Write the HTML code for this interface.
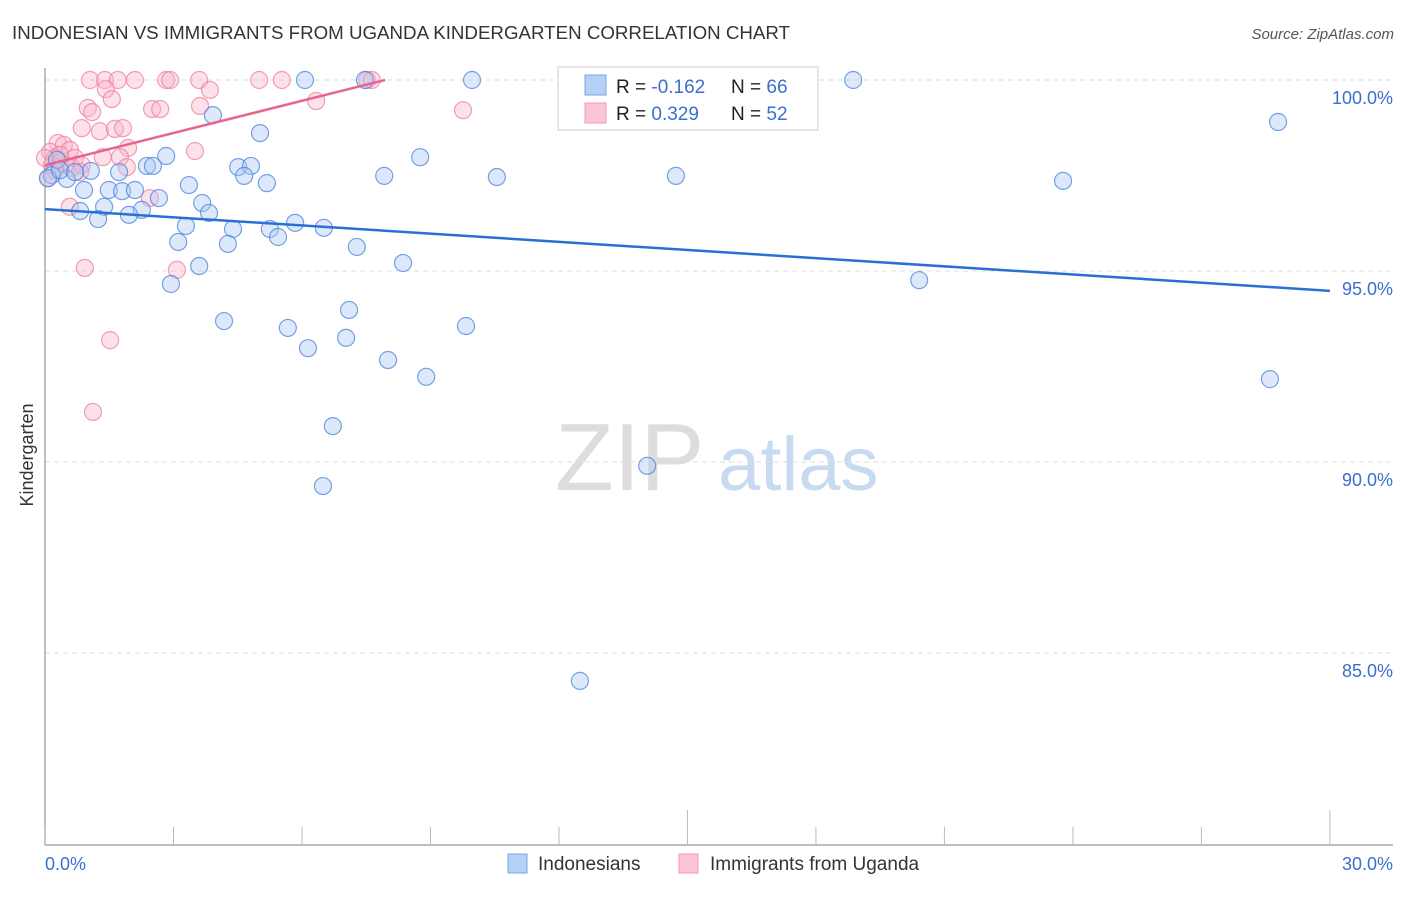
<!DOCTYPE html>
<html><head><meta charset="utf-8"><style>
body{margin:0;background:#fff;font-family:"Liberation Sans",sans-serif;}
svg text{font-family:"Liberation Sans",sans-serif;}
</style></head><body>
<svg id="chart" width="1406" height="892">
<text x="12" y="39" font-size="18" fill="#333" textLength="778" lengthAdjust="spacingAndGlyphs">INDONESIAN VS IMMIGRANTS FROM UGANDA KINDERGARTEN CORRELATION CHART</text>
<text x="1394" y="39" font-size="15" fill="#555" text-anchor="end" font-style="italic">Source: ZipAtlas.com</text>
<text x="555" y="490" font-size="96" fill="#ddd" font-family="Liberation Serif">ZIP</text>
<text x="718" y="490" font-size="76" fill="#c8daf0">atlas</text>
<text transform="translate(33,455) rotate(-90)" font-size="18" fill="#333" text-anchor="middle">Kindergarten</text>
<g id="grid"></g><g id="axes"></g><g id="pink"></g><g id="blue"></g><g id="lines"></g>
<g>
<rect x="558" y="67" width="260" height="63" fill="#fff" stroke="#ddd" stroke-width="1.5"/>
<rect x="585" y="75" width="21" height="20" fill="#b5d0f5" stroke="#7aa6e6"/>
<rect x="585" y="103" width="21" height="20" fill="#fcc4d4" stroke="#f09ab4"/>
<text x="616" y="93" font-size="19" fill="#222">R = <tspan fill="#3a6fd0">-0.162</tspan></text>
<text x="731" y="93" font-size="19" fill="#222">N = <tspan fill="#3a6fd0">66</tspan></text>
<text x="616" y="120" font-size="19" fill="#222">R = <tspan fill="#3a6fd0"> 0.329</tspan></text>
<text x="731" y="120" font-size="19" fill="#222">N = <tspan fill="#3a6fd0">52</tspan></text>
</g>
<g>
<rect x="508" y="854" width="19" height="19" fill="#b5d0f5" stroke="#7aa6e6"/>
<text x="538" y="870" font-size="19" fill="#333">Indonesians</text>
<rect x="679" y="854" width="19" height="19" fill="#fcc4d4" stroke="#f09ab4"/>
<text x="710" y="870" font-size="19" fill="#333">Immigrants from Uganda</text>
</g>
</svg>
<script>
const yTicks=[100,95,90,85];
const yTickLabels=["100.0%","95.0%","90.0%","85.0%"];
const xTicks=[0,3,6,9,12,15,18,21,24,27,30];
const blueX=[6.07,7.47,9.97,18.87,28.79,3.92,5.02,8.76,2.83,2.38,2.52,4.51,4.81,4.65,1.73,1.07,0.51,7.92,10.55,14.73,23.77,5.18,3.36,1.49,1.80,2.10,0.91,2.66,3.67,0.82,1.38,2.26,3.83,1.24,1.96,3.29,4.39,5.25,5.84,6.51,5.44,3.11,4.27,7.28,8.36,3.60,2.94,20.41,7.10,4.18,5.67,9.83,7.03,6.14,8.01,8.90,28.60,6.72,14.06,6.49,12.49,0.16,0.28,0.07,0.35,0.70];
const blueY=[100,100,100,100,98.90,99.08,98.61,97.98,98.01,97.75,97.75,97.72,97.75,97.49,97.59,97.62,97.41,97.49,97.46,97.49,97.36,97.30,97.25,97.12,97.09,97.12,97.12,96.91,96.78,96.57,96.68,96.60,96.52,96.36,96.47,96.18,96.10,96.10,96.26,96.13,95.89,95.76,95.71,95.63,95.21,95.13,94.66,94.76,93.98,93.69,93.51,93.56,93.25,92.98,92.67,92.23,92.17,90.94,89.90,89.37,84.27,97.51,97.91,97.43,97.64,97.59];
const pinkX=[1.05,1.40,1.70,2.10,2.83,2.92,3.60,5.00,5.53,7.52,7.63,1.42,1.56,3.85,1.00,1.10,2.50,2.69,3.62,9.76,6.33,0.86,1.28,1.63,1.82,0.30,0.44,3.50,1.94,1.35,1.75,0.58,0.70,0.12,0.23,0.35,0.47,0.63,1.91,0.86,2.45,0.58,0.93,3.08,1.52,1.12,0.07,0.16,0.35,0.82,0.00,0.23];
const pinkY=[100,100,100,100,100,100,100,100,100,100,100,99.76,99.50,99.74,99.27,99.16,99.24,99.24,99.32,99.21,99.45,98.74,98.66,98.72,98.74,98.35,98.30,98.14,98.22,97.98,97.98,98.17,97.96,98.12,97.96,97.85,97.77,97.70,97.72,97.77,96.91,96.68,95.08,95.03,93.19,91.31,97.43,97.77,98.04,97.59,97.96,97.64];
const blueLine=[[0,96.62],[30,94.48]];
const pinkLine=[[0,97.77],[7.94,100]];
const NS="http://www.w3.org/2000/svg";
const sx=v=>45+v*42.83, sy=v=>80+(100-v)*38.2;
function mk(p,t,a){const e=document.createElementNS(NS,t);for(const k in a)e.setAttribute(k,a[k]);p.appendChild(e);return e;}
const grid=document.getElementById('grid'),axes=document.getElementById('axes');
yTicks.forEach((v,i)=>{
 const l=mk(grid,'line',{x1:45,x2:1393,y1:sy(v),y2:sy(v),stroke:'#ddd','stroke-dasharray':'5,4'});
 
 
 const t=mk(grid,'text',{x:1393,y:sy(v)+24,'font-size':18,fill:'#3a6fd0','text-anchor':'end'});
 t.textContent=yTickLabels[i];
 
 
});
const ax=mk(axes,'line',{x1:45,x2:1393,y1:845,y2:845,stroke:'#aaa','stroke-width':1.5});


const ay=mk(axes,'line',{x1:45,x2:45,y1:68,y2:845,stroke:'#aaa','stroke-width':1.5});


xTicks.forEach(v=>{
 const tk=mk(axes,'line',{x1:sx(v),x2:sx(v),y1:(v==15||v==30)?810:827,y2:845,stroke:'#bbb'});
 
 
});
const x0=mk(axes,'text',{x:45,y:870,'font-size':18,fill:'#3a6fd0'});x0.textContent='0.0%';


const x1=mk(axes,'text',{x:1393,y:870,'font-size':18,fill:'#3a6fd0','text-anchor':'end'});x1.textContent='30.0%';


function dots(g,X,Y,fill,stroke,name){X.forEach((x,i)=>{
 const c=mk(g,'circle',{cx:sx(x),cy:sy(Y[i]),r:8.5,fill:fill,'fill-opacity':0.4,stroke:stroke,'stroke-width':1.2,'stroke-opacity':0.75});
 
 
});}
dots(document.getElementById('pink'),pinkX,pinkY,'#f9b3c8','#ec7fa0','uganda-point');
dots(document.getElementById('blue'),blueX,blueY,'#a9c8f2','#4a84dc','indonesian-point');
const lg=document.getElementById('lines');
const bl=mk(lg,'line',{x1:sx(blueLine[0][0]),y1:sy(blueLine[0][1]),x2:sx(blueLine[1][0]),y2:sy(blueLine[1][1]),stroke:'#2a6fd6','stroke-width':2.5});


const pl=mk(lg,'line',{x1:sx(pinkLine[0][0]),y1:sy(pinkLine[0][1]),x2:sx(pinkLine[1][0]),y2:sy(pinkLine[1][1]),stroke:'#e8638e','stroke-width':2.5});


</script>
</body></html>
